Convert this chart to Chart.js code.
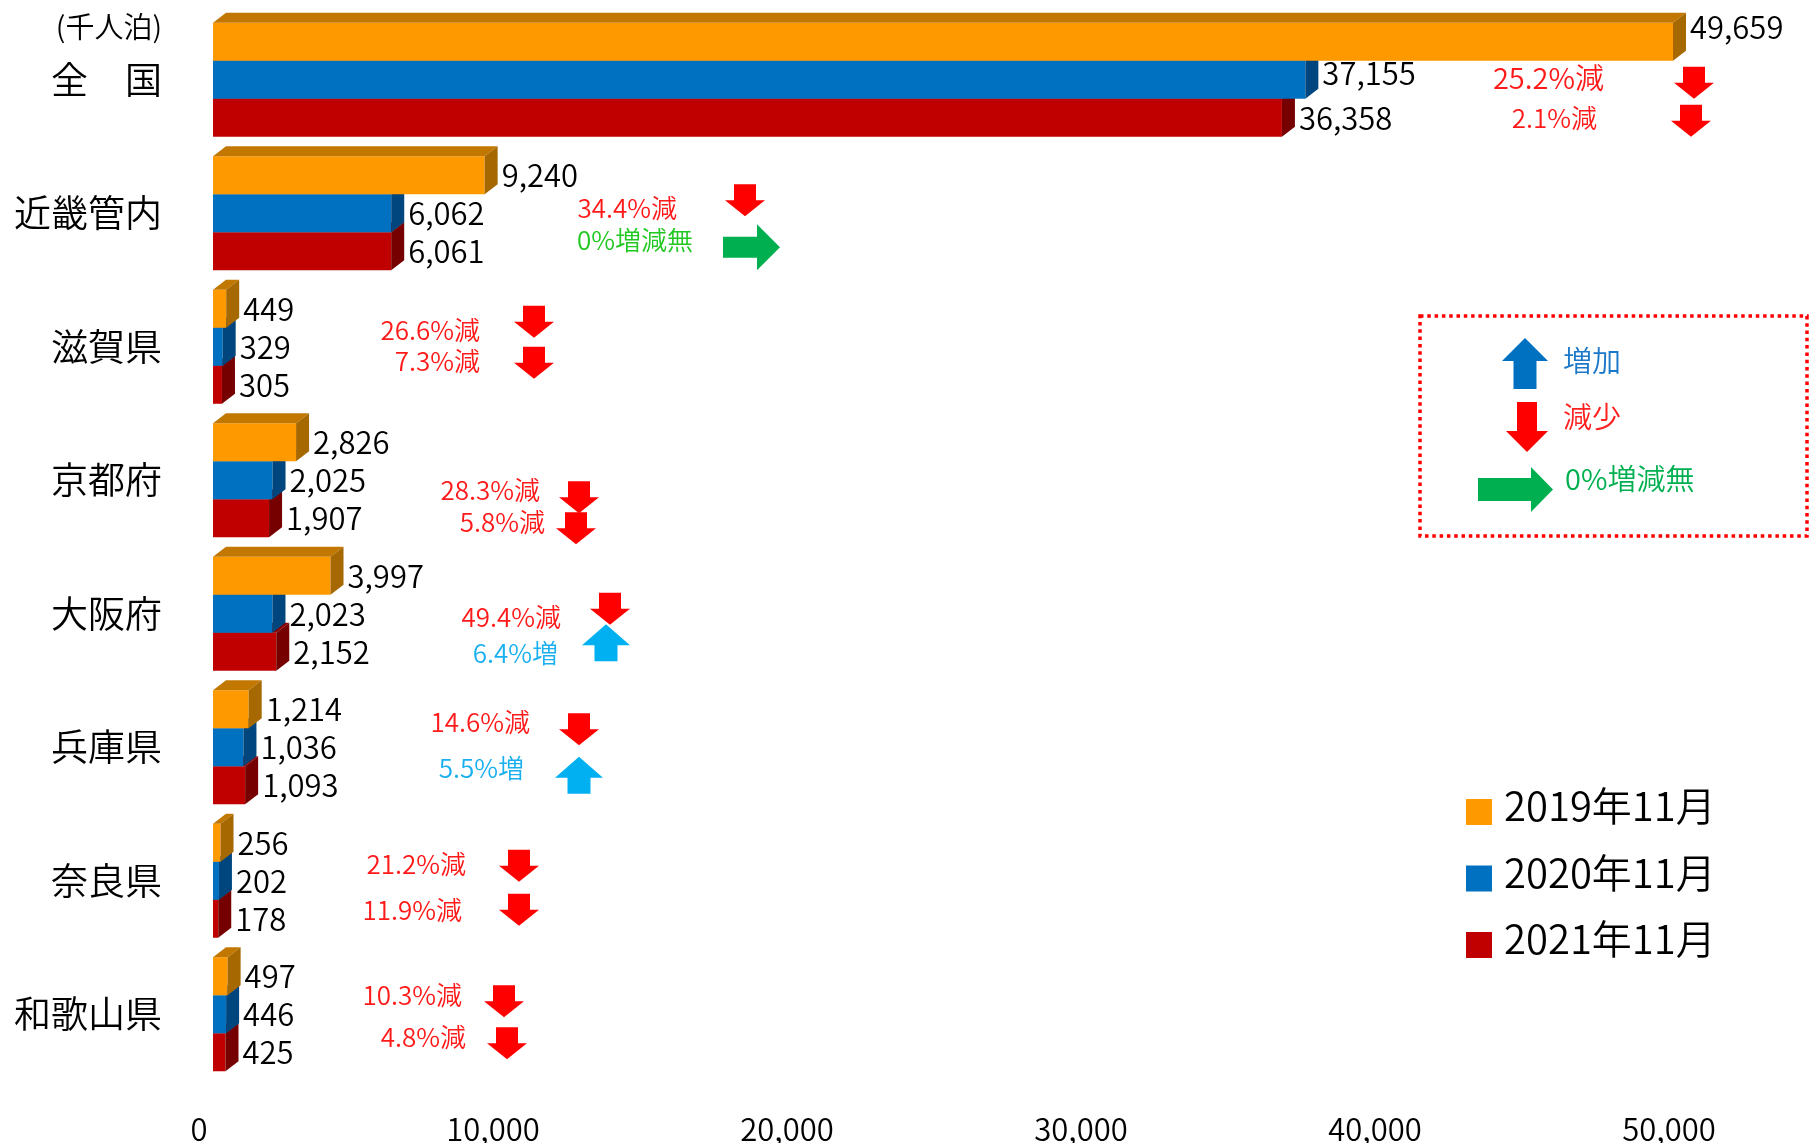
<!DOCTYPE html>
<html lang="ja">
<head>
<meta charset="utf-8">
<title>延べ宿泊者数</title>
<script src="https://cdn.jsdelivr.net/npm/chart.js@4.4.1/dist/chart.umd.min.js"></script>
<style>
  html, body { margin: 0; padding: 0; background: #fff; }
  #wrap { width: 1810px; height: 1143px; }
</style>
</head>
<body>
<div id="wrap"><canvas id="chart" width="1810" height="1143"></canvas></div>
<script>
// 延べ宿泊者数（千人泊）
const categories = ["全　国", "近畿管内", "滋賀県", "京都府", "大阪府", "兵庫県", "奈良県", "和歌山県"];
const seriesNames = ["2019年11月", "2020年11月", "2021年11月"];
const values2019 = [49659, 9240, 449, 2826, 3997, 1214, 256, 497];
const values2020 = [37155, 6062, 329, 2025, 2023, 1036, 202, 446];
const values2021 = [36358, 6061, 305, 1907, 2152, 1093, 178, 425];
// 増減率(%) : 2020年/2019年, 2021年/2020年
const change2020 = [-25.2, -34.4, -26.6, -28.3, -49.4, -14.6, -21.2, -10.3];
const change2021 = [-2.1, 0, -7.3, -5.8, 6.4, 5.5, -11.9, -4.8];
const xTicks = [0, 10000, 20000, 30000, 40000, 50000];
const unitLabel = "(千人泊)";

const FONT = '"Noto Sans CJK JP", "Noto Sans", sans-serif';
const W = "350 "; // demilight, closer to the original face
const FRONT = ["#FF9900", "#0070C0", "#C00000"];
const TOP = ["#C27700", "#005A9C", "#8E0000"];
const SIDE = ["#A66800", "#00467E", "#760000"];
const DX = 13, DY = 10;

// note placement: [text right (axis value), text dy, arrow centre (axis value), arrow dy, font px]
const noteLayout = [
  [[47313, -2, 50374, 3, 29], [47075, 38, 50272, 41, 26]],
  [[15782, -5, 18095, -13, 26], [16327, 27, 18316, 34, 26]],
  [[9082, -17, 10918, -25, 26], [9082, 14, 10918, 16, 26]],
  [[11122, 10, 12449, 17, 26], [11293, 42, 12347, 48, 26]],
  [[11837, 3, 13503, -5, 26], [11735, 39, 13367, 29, 26]],
  [[10782, -25, 12449, -18, 26], [10578, 21, 12449, 28, 26]],
  [[8605, -17, 10408, -15, 26], [8469, 29, 10408, 29, 26]],
  [[8469, -19, 9898, -13, 26], [8605, 23, 10000, 29, 26]]
];
const ARROW = {
  down: { w: 40, h: 32, shaft: 22, head: 16, color: "#FF0000" },
  up: { w: 48, h: 37, shaft: 23, head: 21, color: "#00B0F0" },
  flat: { w: 57, h: 46, shaft: 21, head: 23, color: "#00B050" }
};
const TEXT_COLOR = { down: "#FF1A1A", up: "#1AB0F0", flat: "#22C822" };

function noteText(v) {
  if (v === 0) return "0%増減無";
  return Math.abs(v).toFixed(1) + "%" + (v < 0 ? "減" : "増");
}
function noteKind(v) {
  return v === 0 ? "flat" : v < 0 ? "down" : "up";
}

function drawArrow(ctx, kind, cx, cy, spec, color) {
  const { w, h, shaft, head } = spec;
  ctx.fillStyle = color;
  ctx.beginPath();
  if (kind === "down") {
    const yh = cy + h / 2 - head;
    ctx.moveTo(cx - shaft / 2, cy - h / 2);
    ctx.lineTo(cx + shaft / 2, cy - h / 2);
    ctx.lineTo(cx + shaft / 2, yh);
    ctx.lineTo(cx + w / 2, yh);
    ctx.lineTo(cx, cy + h / 2);
    ctx.lineTo(cx - w / 2, yh);
    ctx.lineTo(cx - shaft / 2, yh);
  } else if (kind === "up") {
    const yh = cy - h / 2 + head;
    ctx.moveTo(cx - shaft / 2, cy + h / 2);
    ctx.lineTo(cx + shaft / 2, cy + h / 2);
    ctx.lineTo(cx + shaft / 2, yh);
    ctx.lineTo(cx + w / 2, yh);
    ctx.lineTo(cx, cy - h / 2);
    ctx.lineTo(cx - w / 2, yh);
    ctx.lineTo(cx - shaft / 2, yh);
  } else {
    const xh = cx + w / 2 - head;
    ctx.moveTo(cx - w / 2, cy - shaft / 2);
    ctx.lineTo(xh, cy - shaft / 2);
    ctx.lineTo(xh, cy - h / 2);
    ctx.lineTo(cx + w / 2, cy);
    ctx.lineTo(xh, cy + h / 2);
    ctx.lineTo(xh, cy + shaft / 2);
    ctx.lineTo(cx - w / 2, cy + shaft / 2);
  }
  ctx.closePath();
  ctx.fill();
}

// top and side faces so the bars look like Excel 3-D bars
const box3d = {
  id: "box3d",
  afterDatasetDraw(chart, args) {
    const ctx = chart.ctx;
    const i = args.index;
    ctx.save();
    args.meta.data.forEach((bar) => {
      const p = bar.getProps(["x", "y", "base", "height"], true);
      const x0 = p.base, x1 = p.x;
      const yt = p.y - p.height / 2, yb = p.y + p.height / 2;
      ctx.fillStyle = TOP[i];
      ctx.beginPath();
      ctx.moveTo(x0, yt);
      ctx.lineTo(x0 + DX, yt - DY);
      ctx.lineTo(x1 + DX, yt - DY);
      ctx.lineTo(x1, yt);
      ctx.closePath();
      ctx.fill();
      ctx.fillStyle = SIDE[i];
      ctx.beginPath();
      ctx.moveTo(x1, yt);
      ctx.lineTo(x1 + DX, yt - DY);
      ctx.lineTo(x1 + DX, yb - DY);
      ctx.lineTo(x1, yb);
      ctx.closePath();
      ctx.fill();
    });
    ctx.restore();
  }
};

const overlay = {
  id: "overlay",
  afterDraw(chart) {
    const ctx = chart.ctx;
    const xs = chart.scales.x, ys = chart.scales.y;
    ctx.save();

    // value labels
    ctx.font = W + "31px " + FONT;
    ctx.fillStyle = "#000";
    ctx.textAlign = "left";
    ctx.textBaseline = "middle";
    const nudge = [[-15, -7, 0]];
    chart.data.datasets.forEach((ds, d) => {
      chart.getDatasetMeta(d).data.forEach((bar, i) => {
        const dy = nudge[i] ? nudge[i][d] : 0;
        ctx.fillText(ds.data[i].toLocaleString("en-US"), bar.x + DX + 4, bar.y + dy);
      });
    });

    // unit
    ctx.font = W + "29px " + FONT;
    ctx.textAlign = "right";
    ctx.fillText(unitLabel, ys.right - 51, 27);

    // change notes
    categories.forEach((c, i) => {
      const cy = ys.getPixelForValue(i);
      [change2020[i], change2021[i]].forEach((v, k) => {
        const [tv, tdy, av, ady, fs] = noteLayout[i][k];
        const kind = noteKind(v);
        ctx.font = W + fs + "px " + FONT;
        ctx.fillStyle = TEXT_COLOR[kind];
        ctx.textAlign = "right";
        ctx.fillText(noteText(v), xs.getPixelForValue(tv), cy + tdy);
        drawArrow(ctx, kind, xs.getPixelForValue(av), cy + ady, ARROW[kind], ARROW[kind].color);
      });
    });

    // arrow key box
    ctx.strokeStyle = "#FF0000";
    ctx.lineWidth = 3.5;
    ctx.setLineDash([3.5, 3.8]);
    ctx.strokeRect(1420, 316, 387, 220);
    ctx.setLineDash([]);
    drawArrow(ctx, "up", 1525, 363.5, { w: 46, h: 51, shaft: 23, head: 23 }, "#0070C0");
    drawArrow(ctx, "down", 1527, 427, { w: 42, h: 50, shaft: 20, head: 21 }, "#FF0000");
    drawArrow(ctx, "flat", 1515.5, 489.5, { w: 75, h: 45, shaft: 23, head: 22 }, "#00B050");
    ctx.font = W + "29px " + FONT;
    ctx.textAlign = "left";
    ctx.fillStyle = "#1C78C8";
    ctx.fillText("増加", 1563, 361);
    ctx.fillStyle = "#FF2020";
    ctx.fillText("減少", 1563, 417);
    ctx.fillStyle = "#00B050";
    ctx.fillText("0%増減無", 1565, 479);

    // series legend
    ctx.font = W + "40px " + FONT;
    seriesNames.forEach((s, k) => {
      const y = 812 + k * 66.5;
      ctx.fillStyle = FRONT[k];
      ctx.fillRect(1466, y - 13, 26, 26);
      ctx.fillStyle = "#000";
      ctx.fillText(s, 1504, y - 6);
    });
    ctx.restore();
  }
};

new Chart(document.getElementById("chart"), {
  type: "bar",
  data: {
    labels: categories,
    datasets: [values2019, values2020, values2021].map((vals, k) => ({
      label: seriesNames[k],
      data: vals,
      backgroundColor: FRONT[k],
      borderWidth: 0,
      categoryPercentage: 0.854,
      barPercentage: 1.0
    }))
  },
  options: {
    indexAxis: "y",
    responsive: false,
    animation: false,
    layout: { padding: { top: 13, right: 127, left: 0, bottom: 0 } },
    plugins: { legend: { display: false }, tooltip: { enabled: false } },
    scales: {
      x: {
        min: 0,
        max: 50000,
        afterBuildTicks: (axis) => { axis.ticks = xTicks.map((v) => ({ value: v })); },
        afterFit: (scale) => { scale.height = 62; },
        grid: { display: false, drawTicks: false },
        border: { display: false },
        ticks: {
          padding: 30,
          labelOffset: -14,
          color: "#000",
          font: { family: FONT, size: 31, weight: 350 },
          callback: (v) => Number(v).toLocaleString("en-US")
        }
      },
      y: {
        afterFit: (scale) => {
          scale.width = 213;
          scale.paddingTop = 0;
          scale.paddingBottom = 0;
        },
        grid: { display: false, drawTicks: false },
        border: { display: false },
        ticks: {
          padding: 51,
          color: "#000",
          font: { family: FONT, size: 37, weight: 350 }
        }
      }
    }
  },
  plugins: [box3d, overlay]
});
</script>
</body>
</html>
